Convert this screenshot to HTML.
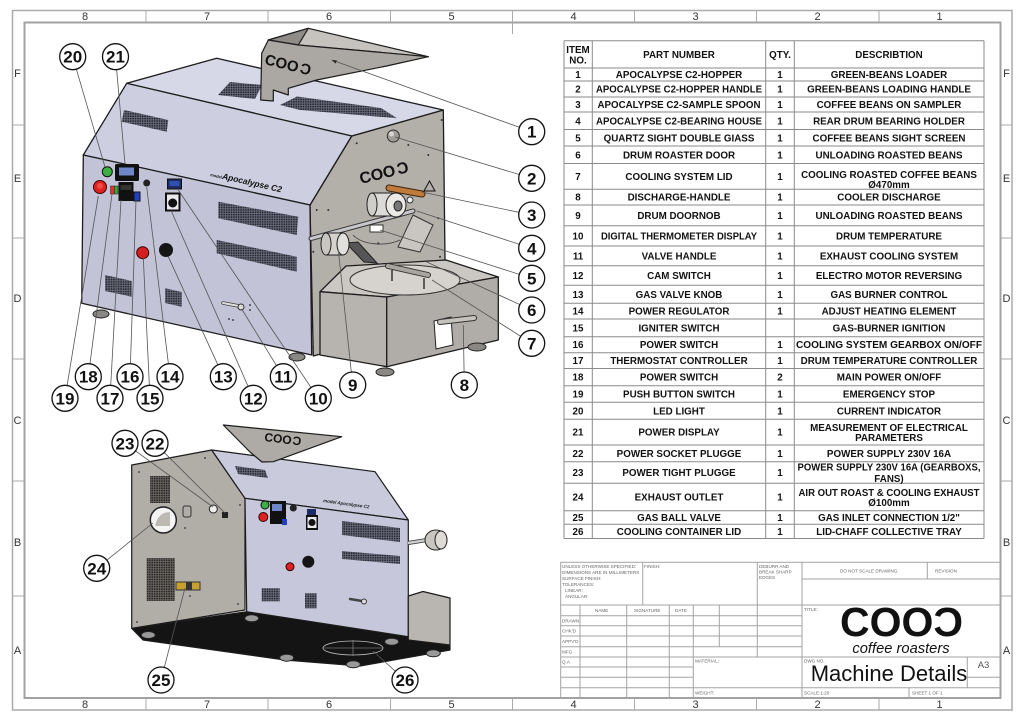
<!DOCTYPE html>
<html><head><meta charset="utf-8"><style>
html,body{margin:0;padding:0;background:#fff;}
svg{display:block;}
text{font-family:"Liberation Sans",Arial,sans-serif;}
.t{font-size:9.8px;font-weight:bold;fill:#111;text-anchor:middle;}
.s{font-size:4.6px;fill:#666;}
.z{font-size:11px;fill:#333;text-anchor:middle;}
.lb{font-size:17px;font-weight:bold;fill:#111;text-anchor:middle;}
</style></head><body>
<svg width="1024" height="722" viewBox="0 0 1024 722" xmlns="http://www.w3.org/2000/svg">
<defs>
<pattern id="dots" width="2.4" height="2.4" patternUnits="userSpaceOnUse"><rect width="2.4" height="2.4" fill="#6e6f80"/><rect x="0.3" y="0.3" width="1.5" height="1.5" fill="#1c1d25"/></pattern>
<pattern id="dotsg" width="2.4" height="2.4" patternUnits="userSpaceOnUse"><rect width="2.4" height="2.4" fill="#6e6a65"/><rect x="0.3" y="0.3" width="1.5" height="1.5" fill="#1c1c1c"/></pattern>
</defs>
<rect width="1024" height="722" fill="#fff"/>

<!-- Sheet frame -->
<rect x="12.5" y="10.5" width="999.5" height="699.5" fill="none" stroke="#aaa" stroke-width="1.5"/>
<rect x="24.5" y="22.5" width="976" height="675.5" fill="none" stroke="#a2a2a2" stroke-width="2"/>
<g stroke="#aaa" stroke-width="1">
<line x1="146" y1="11" x2="146" y2="22"/><line x1="268" y1="11" x2="268" y2="22"/><line x1="390.5" y1="11" x2="390.5" y2="22"/><line x1="512.5" y1="11" x2="512.5" y2="34"/><line x1="634.5" y1="11" x2="634.5" y2="22"/><line x1="756.5" y1="11" x2="756.5" y2="22"/><line x1="879" y1="11" x2="879" y2="22"/>
<line x1="146" y1="698" x2="146" y2="710"/><line x1="268" y1="698" x2="268" y2="710"/><line x1="390.5" y1="698" x2="390.5" y2="710"/><line x1="512.5" y1="698" x2="512.5" y2="710"/><line x1="634.5" y1="698" x2="634.5" y2="710"/><line x1="756.5" y1="698" x2="756.5" y2="710"/><line x1="879" y1="698" x2="879" y2="710"/>
<line x1="13" y1="125" x2="24" y2="125"/><line x1="13" y1="238" x2="24" y2="238"/><line x1="13" y1="359" x2="24" y2="359"/><line x1="13" y1="481" x2="24" y2="481"/><line x1="13" y1="596" x2="24" y2="596"/>
<line x1="1001" y1="125" x2="1012" y2="125"/><line x1="1001" y1="238" x2="1012" y2="238"/><line x1="1001" y1="359" x2="1012" y2="359"/><line x1="1001" y1="481" x2="1012" y2="481"/><line x1="1001" y1="596" x2="1012" y2="596"/>
</g>
<g class="z">
<text x="85" y="20">8</text><text x="207" y="20">7</text><text x="329" y="20">6</text><text x="451.5" y="20">5</text><text x="573.5" y="20">4</text><text x="695.5" y="20">3</text><text x="817.5" y="20">2</text><text x="939.5" y="20">1</text>
<text x="85" y="708">8</text><text x="207" y="708">7</text><text x="329" y="708">6</text><text x="451.5" y="708">5</text><text x="573.5" y="708">4</text><text x="695.5" y="708">3</text><text x="817.5" y="708">2</text><text x="939.5" y="708">1</text>
<text x="17.5" y="77">F</text><text x="17.5" y="182">E</text><text x="17.5" y="302">D</text><text x="17.5" y="424">C</text><text x="17.5" y="546">B</text><text x="17.5" y="654">A</text>
<text x="1006.5" y="77">F</text><text x="1006.5" y="182">E</text><text x="1006.5" y="302">D</text><text x="1006.5" y="424">C</text><text x="1006.5" y="546">B</text><text x="1006.5" y="654">A</text>
</g>

<!-- ================= TOP MACHINE ================= -->
<g stroke="#1c1c1c" stroke-width="1.3" stroke-linejoin="round">
<polygon points="351.7,136 443.3,110 445.7,320 313.3,356 310,205" fill="#b3afa9"/>
<polygon points="126.7,83.3 216.7,58.3 443.3,110 351.7,136" fill="#d7d8e7"/>
<polygon points="83.3,155 126.7,83.3 351.7,136 310,205" fill="#cdcee0"/>
<polygon points="83.3,155 310,205 311.7,355 81.7,303.3" fill="#c2c3d6"/>
</g>
<polygon points="218,95 230,82 262,85 255,99" fill="url(#dots)"/>
<polygon points="280,105 297,96.5 381,108 397,118.3 300,110" fill="url(#dots)"/>
<polygon points="124,110 168.3,120 166.7,131.7 121.7,121.7" fill="url(#dots)"/>
<polygon points="218.3,201.7 298.3,216.7 296.7,235 218.3,218.3" fill="url(#dots)"/>
<polygon points="216.7,240 296.7,256.7 296.7,271.7 216.7,253.3" fill="url(#dots)"/>
<polygon points="105,275 131.7,281 131.7,296.7 105,291" fill="url(#dots)"/>
<polygon points="165,288.3 181.7,292 181.7,306.7 165,303" fill="url(#dots)"/>

<!-- hopper -->
<g stroke="#1c1c1c" stroke-width="1.2" stroke-linejoin="round">
<polygon points="268.3,40 308.3,28.3 428.3,56.7 298.3,45" fill="#c6c3be"/>
<polygon points="268.3,40 308.3,28.3 298.3,45" fill="#8f8c87"/>
<polygon points="261.7,53.3 268.3,40 298.3,45 428.3,56.7 386.7,66 316.7,80 288.3,88.3 288.3,95 273.3,90 273.3,101 260.7,100" fill="#aba8a3"/>
</g>
<g transform="translate(264,64) rotate(14)"><text x="0" y="0" font-size="15" font-weight="bold" fill="#111">COO</text><text transform="translate(47,0) scale(-1,1)" x="0" y="0" font-size="15" font-weight="bold" fill="#111">C</text></g>

<g transform="translate(210,176) rotate(13)"><text x="0" y="0" font-size="4" font-weight="bold" fill="#111">model</text><text x="12" y="0" font-size="8.5" font-weight="bold" font-style="italic" fill="#111">Apocalypse C2</text></g>

<!-- front panel controls -->
<circle cx="107.3" cy="171.7" r="5" fill="#3cb043" stroke="#111"/>
<rect x="115" y="164" width="24" height="17" rx="1.5" fill="#111"/>
<rect x="119" y="167.5" width="15" height="8" fill="#6f86c8"/>
<circle cx="146.7" cy="183" r="3.5" fill="#222"/>
<circle cx="100" cy="187" r="6.5" fill="#d22" stroke="#400"/>
<circle cx="100" cy="186" r="3" fill="#ee4a4a"/>
<rect x="110.5" y="186" width="4" height="8" fill="#d33" stroke="#222" stroke-width="0.5"/>
<rect x="114.5" y="186" width="3.5" height="8" fill="#3a3" stroke="#222" stroke-width="0.5"/>
<rect x="118.5" y="182" width="15" height="19" fill="#111"/>
<rect x="120.5" y="185" width="11" height="5" fill="#333"/>
<rect x="134" y="192" width="6" height="9" fill="#2040c0" stroke="#111"/>
<rect x="167.5" y="179" width="14" height="10" fill="#1c2a66" stroke="#111"/>
<rect x="169.5" y="181" width="10" height="5" fill="#3050b0"/>
<rect x="165" y="192.5" width="15.5" height="19" fill="#111"/>
<rect x="167" y="194.5" width="11.5" height="15" fill="#e8e8ee"/>
<circle cx="172.7" cy="203" r="4.5" fill="#111"/>
<circle cx="142.7" cy="252.7" r="6" fill="#d42020" stroke="#300"/>
<circle cx="166" cy="250" r="7" fill="#151515"/>
<line x1="223" y1="303" x2="239" y2="306" stroke="#444" stroke-width="3.5" stroke-linecap="round"/>
<line x1="223" y1="303" x2="239" y2="306" stroke="#ddd" stroke-width="2" stroke-linecap="round"/>
<circle cx="241" cy="307" r="3" fill="#ddd" stroke="#333"/>
<circle cx="250" cy="305" r="0.9" fill="#222"/><circle cx="250" cy="310" r="0.9" fill="#222"/><circle cx="229" cy="319" r="0.9" fill="#222"/><circle cx="233" cy="320" r="0.9" fill="#222"/>

<!-- side face details -->
<g fill="#333">
<circle cx="441.7" cy="120" r="1"/><circle cx="356.7" cy="143.3" r="1"/><circle cx="408.3" cy="145" r="1"/><circle cx="428.3" cy="155" r="1"/><circle cx="316.7" cy="210" r="1"/><circle cx="328.3" cy="210" r="1"/><circle cx="438.3" cy="218.3" r="1"/><circle cx="378.3" cy="243.3" r="1"/><circle cx="313.3" cy="251.7" r="1"/><circle cx="440" cy="256.7" r="1"/><circle cx="313" cy="346.7" r="1"/>
</g>
<g transform="translate(361,184) rotate(-14)"><text x="0" y="0" font-size="16" font-weight="bold" fill="#111">COO</text><text transform="translate(50,0) scale(-1,1)" x="0" y="0" font-size="16" font-weight="bold" fill="#111">C</text></g>
<circle cx="393.3" cy="136" r="6" fill="#a09d98" stroke="#333"/>
<circle cx="391.5" cy="134" r="2.5" fill="#d8d6d2"/>
<line x1="389" y1="188" x2="422" y2="194" stroke="#3a2410" stroke-width="7" stroke-linecap="round"/>
<line x1="389" y1="188" x2="422" y2="194" stroke="#c07a3a" stroke-width="5" stroke-linecap="round"/>
<polygon points="424,191 429.5,181 435,191" fill="none" stroke="#111" stroke-width="1"/>
<line x1="311" y1="238.5" x2="413" y2="211" stroke="#333" stroke-width="5" stroke-linecap="round"/>
<line x1="311" y1="238.5" x2="413" y2="211" stroke="#c8c8cc" stroke-width="3" stroke-linecap="round"/>
<rect x="372" y="193" width="20" height="23" fill="#dcdad6" stroke="#222"/>
<ellipse cx="372" cy="204.5" rx="5" ry="11.5" fill="#d0cec9" stroke="#222"/>
<ellipse cx="396" cy="205" rx="10" ry="12" fill="#ebe9e5" stroke="#222"/>
<ellipse cx="398" cy="206" rx="4" ry="5" fill="#777" stroke="#222"/>
<circle cx="410" cy="200" r="3" fill="#eee" stroke="#333"/>
<rect x="370" y="225" width="13" height="7" fill="#fff" stroke="#333"/>
<path d="M353,235 A30 16 0 0 0 400,240" fill="none" stroke="#444" stroke-width="0.9"/>
<polygon points="346,243 358,242 377,263 364,262" fill="#555" stroke="#222"/>
<polygon points="413,215 433,225 420,252 398,247" fill="#c9c6c1" stroke="#333"/>
<rect x="326" y="233" width="17" height="22" fill="#d6d3ce" stroke="#222"/>
<ellipse cx="326" cy="244" rx="5" ry="11" fill="#c9c6c1" stroke="#222"/>
<ellipse cx="343" cy="244" rx="6" ry="11" fill="#e2e0dc" stroke="#222"/>
<!-- cooling box -->
<g stroke="#1c1c1c" stroke-width="1.3" stroke-linejoin="round">
<polygon points="320,291.7 346,266 446,260 498.3,277 386.7,297" fill="#cbc8c3"/>
<polygon points="320,291.7 386.7,297 386.7,366.7 320,355" fill="#b7b4af"/>
<polygon points="386.7,297 498.3,277 498.3,340 386.7,366.7" fill="#b0ada8"/>
</g>
<ellipse cx="405" cy="280" rx="55" ry="15" fill="#d6d3ce" stroke="#333" stroke-width="1"/>
<line x1="388" y1="266" x2="428" y2="275" stroke="#333" stroke-width="6" stroke-linecap="round"/>
<line x1="388" y1="266" x2="428" y2="275" stroke="#a8a5a0" stroke-width="4" stroke-linecap="round"/>
<line x1="392" y1="270" x2="392" y2="281" stroke="#333" stroke-width="1.5"/>
<line x1="424" y1="278" x2="424" y2="289" stroke="#333" stroke-width="1.5"/>
<polygon points="434,321 451,317 453,345 436,349" fill="#fff" stroke="#222"/>
<line x1="440" y1="322" x2="474" y2="318" stroke="#333" stroke-width="6" stroke-linecap="round"/>
<line x1="440" y1="322" x2="474" y2="318" stroke="#c5c2bd" stroke-width="4" stroke-linecap="round"/>
<g fill="#8a8884" stroke="#222" stroke-width="1">
<ellipse cx="101" cy="314" rx="8" ry="4"/><ellipse cx="297" cy="357" rx="8" ry="4"/><ellipse cx="385" cy="372" rx="9" ry="4"/><ellipse cx="477" cy="347" rx="9" ry="4"/>
</g>

<!-- ================= BOTTOM MACHINE ================= -->
<g stroke="#1c1c1c" stroke-width="1.2" stroke-linejoin="round">
<polygon points="131.7,628.3 246.7,611.7 410,636.7 450,646 450,650 360,666 285,660 143,640" fill="#141414"/>
<polygon points="131.7,465 211.7,450 245,498.3 245,610 131.7,628.3" fill="#b1ada7"/>
<polygon points="211.7,450 375,471.7 408.3,520 245,498.3" fill="#c9cadc"/>
<polygon points="245,498.3 408.3,520 408.3,636.7 246.7,611.7" fill="#c6c7da"/>
<polygon points="408.3,596 423,591.5 450,598 450,645 408.3,640" fill="#b9b6b1"/>
<polygon points="223.3,425 341.7,436.7 273.3,461.7 262,462 250,452" fill="#aeaba6"/>
</g>
<g transform="translate(264,441) rotate(7)"><text x="0" y="0" font-size="12" font-weight="bold" fill="#111">COO</text><text transform="translate(37,0) scale(-1,1)" x="0" y="0" font-size="12" font-weight="bold" fill="#111">C</text></g>
<rect x="150" y="476" width="20" height="27" fill="url(#dotsg)"/>
<rect x="146.7" y="558" width="28" height="43" fill="url(#dotsg)"/>
<polygon points="235,466 265,470 268,478 238,474" fill="url(#dots)"/>
<polygon points="342,521 400,528 400,542 342,535" fill="url(#dots)"/>
<polygon points="342,551 400,556 400,564 342,559" fill="url(#dots)"/>
<rect x="261.7" y="588.3" width="18" height="13" fill="url(#dots)"/>
<rect x="305" y="593.3" width="11.7" height="15" fill="url(#dots)"/>
<circle cx="163.3" cy="520" r="13" fill="#f4f4f4" stroke="#222" stroke-width="1.5"/>
<path d="M155,526 Q158,512 170,512 L170,526 Z" fill="#bdbab5"/>
<rect x="183" y="506" width="8" height="11" rx="2" fill="none" stroke="#333"/>
<circle cx="213.3" cy="509" r="4" fill="#eee" stroke="#222"/>
<rect x="222" y="512" width="6" height="6" fill="#222"/>
<rect x="176" y="582" width="24" height="8" fill="#c8a030" stroke="#333"/>
<rect x="186" y="582" width="6" height="8" fill="#333"/>
<g fill="#333"><circle cx="139" cy="472" r="0.9"/><circle cx="205" cy="458" r="0.9"/><circle cx="240" cy="505" r="0.9"/><circle cx="238" cy="604" r="0.9"/><circle cx="137" cy="622" r="0.9"/><circle cx="190" cy="596" r="0.9"/><circle cx="185" cy="528" r="0.9"/></g>
<circle cx="265" cy="505" r="4" fill="#3cb043" stroke="#111"/>
<circle cx="263.3" cy="517" r="4.5" fill="#d22" stroke="#300"/>
<rect x="270" y="501" width="16" height="23" fill="#111"/>
<rect x="272" y="504" width="10" height="7" fill="#6f86c8"/>
<circle cx="293.3" cy="508" r="3.5" fill="#222"/>
<rect x="282" y="519" width="5" height="6" fill="#2040c0"/>
<rect x="307" y="509" width="9" height="6" fill="#1c2a66"/>
<rect x="306" y="515" width="12" height="15" fill="#111"/>
<rect x="307.5" y="517" width="9" height="11" fill="#e8e8ee"/>
<circle cx="312" cy="522.5" r="3.5" fill="#111"/>
<circle cx="290" cy="566.7" r="4" fill="#d22" stroke="#300"/>
<circle cx="308.3" cy="561.7" r="6" fill="#151515"/>
<line x1="350" y1="599" x2="362" y2="601" stroke="#444" stroke-width="2.5" stroke-linecap="round"/>
<circle cx="364" cy="601.5" r="2.5" fill="#ddd" stroke="#333"/>
<g transform="translate(323,502) rotate(8)"><text x="0" y="0" font-size="4.5" font-weight="bold" font-style="italic" fill="#222">model Apocalypse C2</text></g>
<line x1="408" y1="543" x2="427" y2="540" stroke="#333" stroke-width="4"/>
<line x1="408" y1="543" x2="427" y2="540" stroke="#ccc" stroke-width="2.5"/>
<ellipse cx="436" cy="540" rx="11" ry="10" fill="#c9c6c1" stroke="#222"/>
<ellipse cx="441" cy="540" rx="6" ry="9" fill="#dedbd6" stroke="#222"/>
<ellipse cx="353" cy="648" rx="30" ry="7" fill="none" stroke="#bbb" stroke-width="0.8"/>
<line x1="323" y1="648" x2="383" y2="648" stroke="#999" stroke-width="0.6"/>
<line x1="353" y1="640" x2="353" y2="656" stroke="#999" stroke-width="0.6"/>
<g fill="#999" stroke="#222" stroke-width="1">
<ellipse cx="148.3" cy="635" rx="7" ry="3.5"/><ellipse cx="251.7" cy="618.3" rx="7" ry="3.5"/><ellipse cx="286.7" cy="657.7" rx="7" ry="3.5"/><ellipse cx="353.3" cy="664.3" rx="7" ry="3.5"/><ellipse cx="391.7" cy="641.7" rx="7" ry="3.5"/><ellipse cx="433.3" cy="653.3" rx="7" ry="3.5"/>
</g>

<!-- ================= LEADERS ================= -->
<g stroke="#555" stroke-width="0.8" fill="none">
<line x1="72.7" y1="56.7" x2="105" y2="167"/>
<line x1="115.5" y1="56.7" x2="125" y2="164"/>
<line x1="65" y1="398.3" x2="98.3" y2="196"/>
<line x1="88.3" y1="376.7" x2="112" y2="194"/>
<line x1="110" y1="398.3" x2="121" y2="200"/>
<line x1="130" y1="376.7" x2="136" y2="200"/>
<line x1="150" y1="398.3" x2="143.3" y2="258"/>
<line x1="170" y1="376.7" x2="146.7" y2="187"/>
<line x1="223.3" y1="376.7" x2="168.3" y2="256.7"/>
<line x1="253.3" y1="398.3" x2="171.7" y2="212"/>
<line x1="283.3" y1="376.7" x2="241.7" y2="309"/>
<line x1="318.3" y1="398.3" x2="178.3" y2="190"/>
<line x1="352.7" y1="385" x2="338.3" y2="250"/>
<line x1="464.3" y1="385" x2="463.3" y2="325"/>
<line x1="531.7" y1="131.7" x2="331.7" y2="60"/>
<line x1="531.7" y1="178.3" x2="395" y2="137"/>
<line x1="531.7" y1="215" x2="421.7" y2="192"/>
<line x1="531.7" y1="248.3" x2="416.7" y2="211"/>
<line x1="531.7" y1="278.3" x2="380" y2="230"/>
<line x1="531.7" y1="310" x2="426.7" y2="262"/>
<line x1="531.7" y1="343.3" x2="432" y2="280"/>
<line x1="125" y1="443.3" x2="213" y2="507"/>
<line x1="155" y1="443.3" x2="225" y2="513"/>
<line x1="96.7" y1="568.3" x2="153" y2="523"/>
<line x1="161" y1="680" x2="185" y2="588"/>
<line x1="405" y1="680" x2="373" y2="651"/>
</g>
<polygon points="331.7,60 337,60.5 335.5,63.5" fill="#222"/>

<!-- ================= LABEL BUBBLES ================= -->
<g fill="#fff" stroke="#111" stroke-width="1.3">
<circle cx="72.7" cy="56.7" r="13"/><circle cx="115.5" cy="56.7" r="13"/>
<circle cx="65" cy="398.3" r="13"/><circle cx="88.3" cy="376.7" r="13"/><circle cx="110" cy="398.3" r="13"/><circle cx="130" cy="376.7" r="13"/><circle cx="150" cy="398.3" r="13"/><circle cx="170" cy="376.7" r="13"/><circle cx="223.3" cy="376.7" r="13"/><circle cx="253.3" cy="398.3" r="13"/><circle cx="283.3" cy="376.7" r="13"/><circle cx="318.3" cy="398.3" r="13"/><circle cx="352.7" cy="385" r="13"/><circle cx="464.3" cy="385" r="13"/>
<circle cx="531.7" cy="131.7" r="13"/><circle cx="531.7" cy="178.3" r="13"/><circle cx="531.7" cy="215" r="13"/><circle cx="531.7" cy="248.3" r="13"/><circle cx="531.7" cy="278.3" r="13"/><circle cx="531.7" cy="310" r="13"/><circle cx="531.7" cy="343.3" r="13"/>
<circle cx="125" cy="443.3" r="13"/><circle cx="155" cy="443.3" r="13"/><circle cx="96.7" cy="568.3" r="13"/><circle cx="161" cy="680" r="13"/><circle cx="405" cy="680" r="13"/>
</g>
<g class="lb">
<text x="72.7" y="62.7">20</text><text x="115.5" y="62.7">21</text>
<text x="65" y="404.3">19</text><text x="88.3" y="382.7">18</text><text x="110" y="404.3">17</text><text x="130" y="382.7">16</text><text x="150" y="404.3">15</text><text x="170" y="382.7">14</text><text x="223.3" y="382.7">13</text><text x="253.3" y="404.3">12</text><text x="283.3" y="382.7">11</text><text x="318.3" y="404.3">10</text><text x="352.7" y="391">9</text><text x="464.3" y="391">8</text>
<text x="531.7" y="137.7">1</text><text x="531.7" y="184.3">2</text><text x="531.7" y="221">3</text><text x="531.7" y="254.3">4</text><text x="531.7" y="284.3">5</text><text x="531.7" y="316">6</text><text x="531.7" y="349.3">7</text>
<text x="125" y="449.3">23</text><text x="155" y="449.3">22</text><text x="96.7" y="574.3">24</text><text x="161" y="686">25</text><text x="405" y="686">26</text>
</g>

<!-- ================= BOM TABLE ================= -->
<g stroke="#8a8a8a" stroke-width="1">
<line x1="592.3" y1="40.7" x2="592.3" y2="538.5"/><line x1="765.7" y1="40.7" x2="765.7" y2="538.5"/><line x1="794.3" y1="40.7" x2="794.3" y2="538.5"/>
<line x1="564" y1="40.7" x2="984" y2="40.7"/>
<line x1="564" y1="538.5" x2="984" y2="538.5"/><line x1="564" y1="40.7" x2="564" y2="538.5"/><line x1="984" y1="40.7" x2="984" y2="538.5"/>
<line x1="564" y1="68" x2="984" y2="68"/><line x1="564" y1="81" x2="984" y2="81"/><line x1="564" y1="97" x2="984" y2="97"/><line x1="564" y1="112" x2="984" y2="112"/><line x1="564" y1="129.5" x2="984" y2="129.5"/><line x1="564" y1="146" x2="984" y2="146"/><line x1="564" y1="163.5" x2="984" y2="163.5"/><line x1="564" y1="189.3" x2="984" y2="189.3"/><line x1="564" y1="205" x2="984" y2="205"/><line x1="564" y1="225.7" x2="984" y2="225.7"/><line x1="564" y1="246" x2="984" y2="246"/><line x1="564" y1="265.7" x2="984" y2="265.7"/><line x1="564" y1="285.3" x2="984" y2="285.3"/><line x1="564" y1="303.3" x2="984" y2="303.3"/><line x1="564" y1="319" x2="984" y2="319"/><line x1="564" y1="336.7" x2="984" y2="336.7"/><line x1="564" y1="352.7" x2="984" y2="352.7"/><line x1="564" y1="368.5" x2="984" y2="368.5"/><line x1="564" y1="385.7" x2="984" y2="385.7"/><line x1="564" y1="402.3" x2="984" y2="402.3"/><line x1="564" y1="419.3" x2="984" y2="419.3"/><line x1="564" y1="445" x2="984" y2="445"/><line x1="564" y1="461.7" x2="984" y2="461.7"/><line x1="564" y1="483.3" x2="984" y2="483.3"/><line x1="564" y1="510.7" x2="984" y2="510.7"/><line x1="564" y1="524.3" x2="984" y2="524.3"/>
</g>
<g class="t">
<text x="578" y="52.8">ITEM</text><text x="578" y="63.5">NO.</text>
<text x="679" y="57.8">PART NUMBER</text><text x="780" y="57.8">QTY.</text><text x="889" y="57.8">DESCRIBTION</text>
<text x="578" y="78">1</text><text x="679" y="78">APOCALYPSE C2-HOPPER</text><text x="780" y="78">1</text><text x="889" y="78">GREEN-BEANS LOADER</text>
<text x="578" y="92.5">2</text><text x="679" y="92.5" textLength="166" lengthAdjust="spacingAndGlyphs">APOCALYPSE C2-HOPPER HANDLE</text><text x="780" y="92.5">1</text><text x="889" y="92.5">GREEN-BEANS LOADING HANDLE</text>
<text x="578" y="108">3</text><text x="679" y="108" textLength="163" lengthAdjust="spacingAndGlyphs">APOCALYPSE C2-SAMPLE SPOON</text><text x="780" y="108">1</text><text x="889" y="108">COFFEE BEANS ON SAMPLER</text>
<text x="578" y="124.3">4</text><text x="679" y="124.3" textLength="166" lengthAdjust="spacingAndGlyphs">APOCALYPSE C2-BEARING HOUSE</text><text x="780" y="124.3">1</text><text x="889" y="124.3">REAR DRUM BEARING HOLDER</text>
<text x="578" y="141.3">5</text><text x="679" y="141.3">QUARTZ SIGHT DOUBLE GIASS</text><text x="780" y="141.3">1</text><text x="889" y="141.3">COFFEE BEANS SIGHT SCREEN</text>
<text x="578" y="158.3">6</text><text x="679" y="158.3">DRUM ROASTER DOOR</text><text x="780" y="158.3">1</text><text x="889" y="158.3">UNLOADING ROASTED BEANS</text>
<text x="578" y="180">7</text><text x="679" y="180">COOLING SYSTEM LID</text><text x="780" y="180">1</text><text x="889" y="177.8">COOLING ROASTED COFFEE BEANS</text><text x="889" y="187.8">Ø470mm</text>
<text x="578" y="200.7">8</text><text x="679" y="200.7">DISCHARGE-HANDLE</text><text x="780" y="200.7">1</text><text x="889" y="200.7">COOLER DISCHARGE</text>
<text x="578" y="218.9">9</text><text x="679" y="218.9">DRUM DOORNOB</text><text x="780" y="218.9">1</text><text x="889" y="218.9">UNLOADING ROASTED BEANS</text>
<text x="578" y="239.4">10</text><text x="679" y="239.4" textLength="156" lengthAdjust="spacingAndGlyphs">DIGITAL THERMOMETER DISPLAY</text><text x="780" y="239.4">1</text><text x="889" y="239.4">DRUM TEMPERATURE</text>
<text x="578" y="259.4">11</text><text x="679" y="259.4">VALVE HANDLE</text><text x="780" y="259.4">1</text><text x="889" y="259.4">EXHAUST COOLING SYSTEM</text>
<text x="578" y="279">12</text><text x="679" y="279">CAM SWITCH</text><text x="780" y="279">1</text><text x="889" y="279">ELECTRO MOTOR REVERSING</text>
<text x="578" y="297.8">13</text><text x="679" y="297.8">GAS VALVE KNOB</text><text x="780" y="297.8">1</text><text x="889" y="297.8">GAS BURNER CONTROL</text>
<text x="578" y="314.7">14</text><text x="679" y="314.7">POWER REGULATOR</text><text x="780" y="314.7">1</text><text x="889" y="314.7">ADJUST HEATING ELEMENT</text>
<text x="578" y="331.4">15</text><text x="679" y="331.4">IGNITER SWITCH</text><text x="889" y="331.4">GAS-BURNER IGNITION</text>
<text x="578" y="348.2">16</text><text x="679" y="348.2">POWER SWITCH</text><text x="780" y="348.2">1</text><text x="889" y="348.2" textLength="186" lengthAdjust="spacingAndGlyphs">COOLING SYSTEM GEARBOX ON/OFF</text>
<text x="578" y="364.1">17</text><text x="679" y="364.1">THERMOSTAT CONTROLLER</text><text x="780" y="364.1">1</text><text x="889" y="364.1">DRUM TEMPERATURE CONTROLLER</text>
<text x="578" y="380.6">18</text><text x="679" y="380.6">POWER SWITCH</text><text x="780" y="380.6">2</text><text x="889" y="380.6">MAIN POWER ON/OFF</text>
<text x="578" y="397.5">19</text><text x="679" y="397.5">PUSH BUTTON SWITCH</text><text x="780" y="397.5">1</text><text x="889" y="397.5">EMERGENCY STOP</text>
<text x="578" y="414.3">20</text><text x="679" y="414.3">LED LIGHT</text><text x="780" y="414.3">1</text><text x="889" y="414.3">CURRENT INDICATOR</text>
<text x="578" y="435.7">21</text><text x="679" y="435.7">POWER DISPLAY</text><text x="780" y="435.7">1</text><text x="889" y="430.8">MEASUREMENT OF ELECTRICAL</text><text x="889" y="441.2">PARAMETERS</text>
<text x="578" y="456.9">22</text><text x="679" y="456.9">POWER SOCKET PLUGGE</text><text x="780" y="456.9">1</text><text x="889" y="456.9">POWER SUPPLY 230V 16A</text>
<text x="578" y="476">23</text><text x="679" y="476">POWER TIGHT PLUGGE</text><text x="780" y="476">1</text><text x="889" y="470.5" textLength="183" lengthAdjust="spacingAndGlyphs">POWER SUPPLY 230V 16A (GEARBOXS,</text><text x="889" y="481.8">FANS)</text>
<text x="578" y="500.5">24</text><text x="679" y="500.5">EXHAUST OUTLET</text><text x="780" y="500.5">1</text><text x="889" y="496.2" textLength="181" lengthAdjust="spacingAndGlyphs">AIR OUT ROAST &amp; COOLING EXHAUST</text><text x="889" y="505.8">Ø100mm</text>
<text x="578" y="521">25</text><text x="679" y="521">GAS BALL VALVE</text><text x="780" y="521">1</text><text x="889" y="521">GAS INLET CONNECTION 1/2"</text>
<text x="578" y="534.9">26</text><text x="679" y="534.9">COOLING CONTAINER LID</text><text x="780" y="534.9">1</text><text x="889" y="534.9">LID-CHAFF COLLECTIVE TRAY</text>
</g>

<!-- ================= TITLE BLOCK ================= -->
<g stroke="#a3a3a3" stroke-width="1" fill="none">
<rect x="560.7" y="562.3" width="439.8" height="135.7"/>
<line x1="560.7" y1="605" x2="1000.5" y2="605"/>
<line x1="802" y1="579" x2="1000.5" y2="579"/>
<line x1="642.7" y1="562.3" x2="642.7" y2="605"/>
<line x1="757.3" y1="562.3" x2="757.3" y2="657"/>
<line x1="802" y1="562.3" x2="802" y2="698"/>
<line x1="927.3" y1="562.3" x2="927.3" y2="579"/>
<line x1="580" y1="605" x2="580" y2="698"/>
<line x1="626.7" y1="605" x2="626.7" y2="698"/>
<line x1="669.3" y1="605" x2="669.3" y2="698"/>
<line x1="693.3" y1="605" x2="693.3" y2="698"/>
<line x1="719.3" y1="605" x2="719.3" y2="646.7"/>
<line x1="560.7" y1="615.7" x2="802" y2="615.7"/>
<line x1="560.7" y1="625.7" x2="802" y2="625.7"/>
<line x1="560.7" y1="636" x2="802" y2="636"/>
<line x1="560.7" y1="646.7" x2="802" y2="646.7"/>
<line x1="560.7" y1="657" x2="1000.5" y2="657"/>
<line x1="560.7" y1="667" x2="693.3" y2="667"/>
<line x1="560.7" y1="677.3" x2="693.3" y2="677.3"/>
<line x1="560.7" y1="687.7" x2="1000.5" y2="687.7"/>
<line x1="967.3" y1="657" x2="967.3" y2="687.7"/>
<line x1="967.3" y1="677.3" x2="1000.5" y2="677.3"/>
<line x1="909" y1="687.7" x2="909" y2="698"/>
</g>
<g class="s">
<text x="562" y="568">UNLESS OTHERWISE SPECIFIED:</text>
<text x="562" y="574">DIMENSIONS ARE IN MILLIMETERS</text>
<text x="562" y="580">SURFACE FINISH:</text>
<text x="562" y="586">TOLERANCES:</text>
<text x="565" y="592">LINEAR:</text>
<text x="565" y="598">ANGULAR:</text>
<text x="644" y="568">FINISH:</text>
<text x="759" y="568">DEBURR AND</text>
<text x="759" y="573.5">BREAK SHARP</text>
<text x="759" y="579">EDGES</text>
<text x="840" y="572.5">DO NOT SCALE DRAWING</text>
<text x="935" y="572.5">REVISION</text>
<text x="595" y="612">NAME</text>
<text x="634" y="612">SIGNATURE</text>
<text x="675" y="612">DATE</text>
<text x="562" y="622.5">DRAWN</text>
<text x="562" y="632.5">CHK'D</text>
<text x="562" y="643">APPV'D</text>
<text x="562" y="653.5">MFG</text>
<text x="562" y="663.5">Q.A</text>
<text x="695" y="662.5">MATERIAL:</text>
<text x="695" y="694.5">WEIGHT:</text>
<text x="804" y="611">TITLE:</text>
<text x="804" y="662.5">DWG NO.</text>
<text x="804" y="694.5">SCALE:1:20</text>
<text x="912" y="694.5">SHEET 1 OF 1</text>
</g>
<text x="840" y="636" font-size="41" font-weight="bold" fill="#111">COO</text>
<text transform="translate(963,636) scale(-1,1)" x="0" y="0" font-size="41" font-weight="bold" fill="#111">C</text>
<text x="901" y="653" font-size="14.7" font-style="italic" fill="#111" text-anchor="middle">coffee roasters</text>
<text x="889" y="681" font-size="22" fill="#111" text-anchor="middle">Machine Details</text>
<text x="983.5" y="668" font-size="9.5" fill="#555" text-anchor="middle">A3</text>
</svg>
</body></html>
